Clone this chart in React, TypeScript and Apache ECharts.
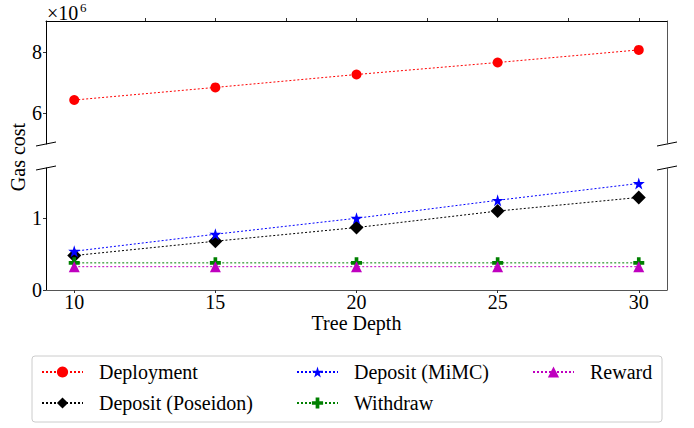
import React, { useEffect, useRef } from 'react';
import * as echarts from 'echarts';

// Data (gas cost in millions)
const treeDepth = [10, 15, 20, 25, 30];
const deployment = [6.43, 6.84, 7.26, 7.65, 8.06];
const depositPoseidon = [0.48, 0.68, 0.87, 1.1, 1.29];
const depositMiMC = [0.54, 0.777, 1.0, 1.25, 1.485];
const withdraw = [0.378, 0.378, 0.378, 0.378, 0.378];
const reward = [0.325, 0.325, 0.325, 0.325, 0.325];

const xTicks = [10, 15, 20, 25, 30];
const xTopTicks = [12.5, 15, 17.5, 20, 22.5, 25, 27.5, 30];
const yTopTicks = [6, 8];
const yBottomTicks = [0, 1];

const FONT = 'Liberation Serif';
const FS = 20;

const STAR = 'path://M50,0 L61,35 L98,35 L68,57 L79,91 L50,70 L21,91 L32,57 L2,35 L39,35 Z';
const PLUS = 'path://M1,0 L2,0 L2,1 L3,1 L3,2 L2,2 L2,3 L1,3 L1,2 L0,2 L0,1 L1,1 Z';

function pairs(ys: number[]) {
  return treeDepth.map((x, i) => [x, ys[i]]);
}

export default function App() {
  const ref = useRef<HTMLDivElement>(null);
  useEffect(() => {
    if (!ref.current) return;
    const chart = echarts.init(ref.current, undefined, { renderer: 'svg' });
    const dotted = (color: string) => ({ color, width: 1, type: [2, 2] as any });
    const labelStyle = { fontFamily: FONT, fontSize: FS, color: '#000' };
    const legendText = { fontFamily: FONT, fontSize: FS, color: '#000', padding: [0, 0, 0, 11] };
    const legendBase = {
      top: 362, orient: 'vertical', itemWidth: 41, itemHeight: 14, itemGap: 11, padding: 0,
      textStyle: legendText, z: 10,
    };
    const option: any = {
      animation: false,
      backgroundColor: '#fff',
      textStyle: { fontFamily: FONT },
      grid: [
        { left: 46, top: 21, width: 621, height: 123 },
        { left: 46, top: 168, width: 621, height: 122 },
      ],
      xAxis: [
        {
          gridIndex: 0, type: 'value', min: 9, max: 31, position: 'top',
          axisLine: { show: true, onZero: false, lineStyle: { color: '#000', width: 1 } },
          axisTick: { show: true, customValues: xTopTicks, length: 3, lineStyle: { color: '#333' } },
          axisLabel: { show: false },
          splitLine: { show: false },
        },
        {
          gridIndex: 1, type: 'value', min: 9, max: 31, position: 'bottom',
          axisLine: { show: true, onZero: false, lineStyle: { color: '#555', width: 1 } },
          axisTick: { show: true, customValues: xTicks, length: 3, lineStyle: { color: '#333' } },
          axisLabel: { ...labelStyle, customValues: xTicks, margin: 2 },
          splitLine: { show: false },
          name: 'Tree Depth', nameLocation: 'middle', nameGap: 21,
          nameTextStyle: { fontFamily: FONT, fontSize: FS, color: '#000' },
        },
      ],
      yAxis: [
        {
          gridIndex: 0, type: 'value', min: 5, max: 9,
          axisLine: { show: true, onZero: false, lineStyle: { color: '#000', width: 1 } },
          axisTick: { show: true, customValues: yTopTicks, length: 3, lineStyle: { color: '#333' } },
          axisLabel: { ...labelStyle, customValues: yTopTicks, margin: 4 },
          splitLine: { show: false },
        },
        {
          gridIndex: 0, type: 'value', min: 5, max: 9, position: 'right',
          axisLine: { show: true, onZero: false, lineStyle: { color: '#555', width: 1 } },
          axisTick: { show: false }, axisLabel: { show: false }, splitLine: { show: false },
        },
        {
          gridIndex: 1, type: 'value', min: 0, max: 1.7,
          axisLine: { show: true, onZero: false, lineStyle: { color: '#000', width: 1 } },
          axisTick: { show: true, customValues: yBottomTicks, length: 3, lineStyle: { color: '#333' } },
          axisLabel: { ...labelStyle, customValues: yBottomTicks, margin: 4 },
          splitLine: { show: false },
        },
        {
          gridIndex: 1, type: 'value', min: 0, max: 1.7, position: 'right',
          axisLine: { show: true, onZero: false, lineStyle: { color: '#555', width: 1 } },
          axisTick: { show: false }, axisLabel: { show: false }, splitLine: { show: false },
        },
      ],
      legend: [
        { ...legendBase, left: 41, data: ['Deployment', 'Deposit (Poseidon)'] },
        { ...legendBase, left: 296, data: ['Deposit (MiMC)', 'Withdraw'] },
        { ...legendBase, left: 532, data: ['Reward'] },
      ],
      graphic: [
        {
          type: 'rect', z: 1, shape: { x: 32, y: 356, width: 630, height: 66, r: 3 },
          style: { fill: '#fff', stroke: '#cccccc', lineWidth: 1 },
        },
        { type: 'text', x: 47, y: 13, style: { text: '×10', fontFamily: FONT, fontSize: FS, fill: '#000', align: 'left', verticalAlign: 'middle' } },
        { type: 'text', x: 80, y: 7, style: { text: '6', fontFamily: FONT, fontSize: 13, fill: '#000', align: 'left', verticalAlign: 'middle' } },
        { type: 'text', x: 18, y: 157, rotation: Math.PI / 2, style: { text: 'Gas cost', fontFamily: FONT, fontSize: FS, fill: '#000', align: 'center', verticalAlign: 'middle' } },
        { type: 'line', shape: { x1: 36, y1: 146, x2: 56, y2: 142 }, style: { stroke: '#000', lineWidth: 1 } },
        { type: 'line', shape: { x1: 36, y1: 170, x2: 56, y2: 166 }, style: { stroke: '#000', lineWidth: 1 } },
        { type: 'line', shape: { x1: 657, y1: 146, x2: 677, y2: 142 }, style: { stroke: '#000', lineWidth: 1 } },
        { type: 'line', shape: { x1: 657, y1: 170, x2: 677, y2: 166 }, style: { stroke: '#000', lineWidth: 1 } },
      ],
      series: [
        {
          name: 'Deployment', type: 'line', xAxisIndex: 0, yAxisIndex: 0, data: pairs(deployment),
          symbol: 'circle', symbolSize: 10, itemStyle: { color: '#ff0000' }, lineStyle: dotted('#ff0000'),
        },
        {
          name: 'Deposit (Poseidon)', type: 'line', xAxisIndex: 1, yAxisIndex: 2, data: pairs(depositPoseidon),
          symbol: 'diamond', symbolSize: 14, itemStyle: { color: '#000000' }, lineStyle: dotted('#000000'),
        },
        {
          name: 'Deposit (MiMC)', type: 'line', xAxisIndex: 1, yAxisIndex: 2, data: pairs(depositMiMC),
          symbol: STAR, symbolSize: 12, itemStyle: { color: '#0000ff' }, lineStyle: dotted('#0000ff'),
        },
        {
          name: 'Withdraw', type: 'line', xAxisIndex: 1, yAxisIndex: 2, data: pairs(withdraw),
          symbol: PLUS, symbolSize: 11, itemStyle: { color: '#008000' }, lineStyle: dotted('#008000'),
        },
        {
          name: 'Reward', type: 'line', xAxisIndex: 1, yAxisIndex: 2, data: pairs(reward),
          symbol: 'triangle', symbolSize: 11, itemStyle: { color: '#bf00bf' }, lineStyle: dotted('#bf00bf'),
        },
      ],
    };
    chart.setOption(option);
    return () => chart.dispose();
  }, []);
  return <div ref={ref} style={{ position: 'absolute', left: 0, top: 0, width: 694, height: 428 }} />;
}
